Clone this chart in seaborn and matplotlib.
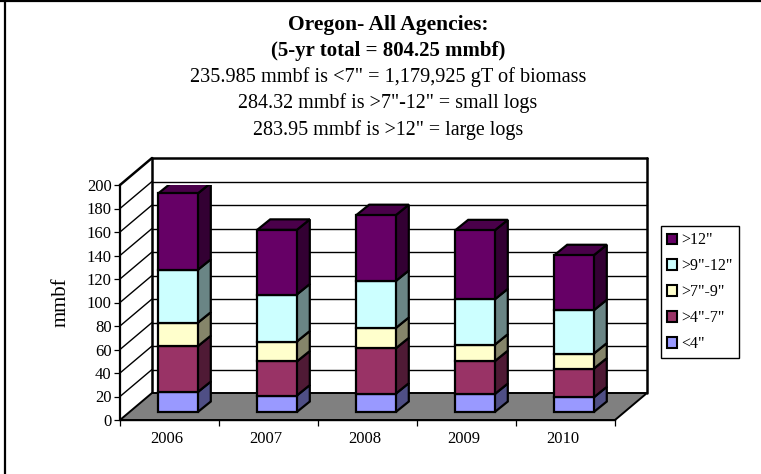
import matplotlib
matplotlib.use("Agg")
import matplotlib.pyplot as plt
import seaborn as sns
import numpy as np
from matplotlib.patches import Polygon, Rectangle
from matplotlib.transforms import IdentityTransform, Affine2D
from matplotlib.lines import Line2D

years = ["2006", "2007", "2008", "2009", "2010"]
series_names = ['<4"', '>4"-7"', '>7"-9"', '>9"-12"', '>12"']
under4 = [17, 14, 15.6, 15.3, 12.5]
from4to7 = [39, 29, 38.6, 28, 24.4]
from7to9 = [20, 17, 17.3, 14, 12.8]
from9to12 = [45, 40, 40, 38.6, 36.9]
over12 = [65, 55, 56, 58.7, 46.8]
series_values = [under4, from4to7, from7to9, from9to12, over12]
face_colors = ["#9999FF", "#993366", "#FFFFCC", "#CCFFFF", "#660066"]
side_colors = ["#4F4F85", "#4F1A35", "#85856A", "#6A8585", "#330033"]
top_color = "#4A004A"
y_ticks = list(range(0, 201, 20))

W, H = 761, 474
sns.set_theme(style="white")
plt.rcParams["font.family"] = ["Liberation Serif", "DejaVu Serif"]
fig = plt.figure(figsize=(W / 100, H / 100), dpi=100)

X0, X1, Y0, Y1 = 120, 615, 420, 185
ax = fig.add_axes([X0 / W, 1 - Y0 / H, (X1 - X0) / W, (Y0 - Y1) / H])
ax.set_facecolor("none")
DX, DY = 32, 27      # depth of the box, px
BX, BY = 8.5, 8      # bar front relative to the floor front, px
SX, SY = 13, 10.5    # depth of a bar, px
BAR_W = 0.4
LW = 1.6

bottoms = np.zeros(len(years))
for vals, col in zip(series_values, face_colors):
    sns.barplot(x=years, y=vals, bottom=bottoms, color=col, saturation=1, width=BAR_W,
                edgecolor="black", linewidth=LW, ax=ax, zorder=5)
    bottoms = bottoms + np.array(vals)
ax.set_xlim(-0.5, 4.5)
ax.set_ylim(0, 200)
fig.canvas.draw()
data = ax.transData
px = IdentityTransform()
shift = Affine2D().translate(BX, BY)
for p in list(ax.patches):
    p.set_transform(data + shift)

# side faces and top faces, projected from the same values
bottoms = np.zeros(len(years))
for vals, sc in zip(series_values, side_colors):
    for i, v in enumerate(vals):
        rx, by = data.transform((i + BAR_W / 2, bottoms[i]))
        _, ty = data.transform((i + BAR_W / 2, bottoms[i] + v))
        rx += BX; by += BY; ty += BY
        ax.add_patch(Polygon([(rx, by), (rx + SX, by + SY), (rx + SX, ty + SY), (rx, ty)], closed=True,
                             facecolor=sc, edgecolor="black", lw=LW, transform=px, zorder=4))
    bottoms = bottoms + np.array(vals)
for i in range(len(years)):
    rx, ty = data.transform((i + BAR_W / 2, bottoms[i]))
    lx, _ = data.transform((i - BAR_W / 2, 0))
    rx += BX; lx += BX; ty += BY
    ax.add_patch(Polygon([(lx, ty), (lx + SX, ty + SY), (rx + SX, ty + SY), (rx, ty)], closed=True,
                         facecolor=top_color, edgecolor="black", lw=LW, transform=px, zorder=4))

# back wall, side wall and floor
depth = Affine2D().translate(DX, DY)
for yv in y_ticks[1:]:
    wall_lw = 1.8 if yv == 200 else 1.0
    ax.plot([-0.5, 4.5], [yv, yv], color="black", lw=wall_lw, transform=data + depth, clip_on=False, zorder=1)
    xp, yp = data.transform((-0.5, yv))
    ax.add_line(Line2D([xp, xp + DX], [yp, yp + DY], color="black", lw=wall_lw, transform=px,
                       clip_on=False, zorder=1))
for xv in (-0.5, 4.5):
    ax.plot([xv, xv], [0, 200], color="black", lw=1.8, transform=data + depth, clip_on=False, zorder=1)
ax0, ay0 = data.transform((-0.5, 0))
ax1, ay1 = data.transform((4.5, 0))
ax.add_patch(Polygon([(ax0, ay0), (ax0 + DX, ay0 + DY), (ax1 + DX, ay1 + DY), (ax1, ay1)], closed=True,
                     facecolor="#808080", edgecolor="black", lw=1.4, transform=px, clip_on=False, zorder=2))

for s in ["top", "right"]:
    ax.spines[s].set_visible(False)
ax.spines["left"].set_linewidth(1.6)
ax.spines["left"].set_color("black")
ax.spines["bottom"].set_linewidth(1.0)
ax.spines["bottom"].set_color("black")
ax.set_yticks(y_ticks)
ax.set_xticks(np.arange(-0.5, 5, 1))
ax.set_xticklabels([""] * 6)
ax.tick_params(axis="both", length=4.5, width=0.9, color="black", bottom=True, left=True,
               labelsize=12, labelcolor="black", pad=1.5)
for i, y in enumerate(years):
    ax.annotate(y, xy=(i, 0), xytext=(-1.8, -13.5), textcoords="offset points", ha="center", va="center",
                fontsize=12, color="black", annotation_clip=False)
ax.set_xlabel("")
fig.text(61 / W, 1 - 302 / H, "mmbf", rotation=90, ha="center", va="center", fontsize=15, color="black")

# titles
cx = 388
title_lines = [("Oregon- All Agencies:", 25, "bold", 15.5), ("(5-yr total = 804.25 mmbf)", 51, "bold", 15),
               ('235.985 mmbf is <7" = 1,179,925 gT of biomass', 77, "normal", 14.6),
               ('284.32 mmbf is >7"-12" = small logs', 103, "normal", 14.4),
               ('283.95 mmbf is >12" = large logs', 130, "normal", 14.4)]
for txt, y, w, fs in title_lines:
    fig.text(cx / W, 1 - y / H, txt, ha="center", va="center", fontsize=fs, fontweight=w, color="black")

# legend
handles = [Rectangle((0, 0), 1, 1, facecolor=c, edgecolor="black", lw=1.5) for c in face_colors[::-1]]
leg = fig.legend(handles, series_names[::-1], loc="upper left", bbox_to_anchor=(661 / W, 1 - 226 / H),
                 borderaxespad=0, frameon=True, fancybox=False, edgecolor="black", framealpha=1,
                 fontsize=11.5, handlelength=0.62, handleheight=0.62, handletextpad=0.25, labelspacing=0.62,
                 borderpad=0.4, labelcolor="black")
leg.get_frame().set_linewidth(1.0)

# chart area frame: top and left edges
fig.add_artist(Line2D([4.5 / W, 4.5 / W], [0, 1], color="black", lw=1.6))
fig.add_artist(Line2D([0, 1], [1 - 0.5 / H, 1 - 0.5 / H], color="black", lw=1.6))
fig.savefig("out.png", dpi=100)
